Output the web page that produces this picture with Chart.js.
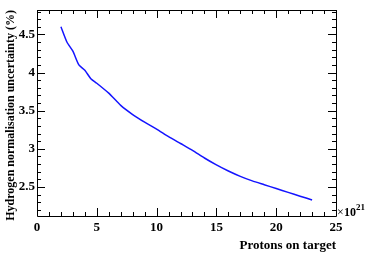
<!DOCTYPE html>
<html>
<head>
<meta charset="utf-8">
<script src="https://cdn.jsdelivr.net/npm/chart.js@4"></script>
<style>
html,body{margin:0;padding:0;background:#fff;}
#wrap{width:374px;height:255px;}
</style>
</head>
<body>
<div id="wrap"><canvas id="c" width="374" height="255"></canvas></div>
<script>
const pot = [2, 2.5, 3, 3.5, 4, 4.5, 5, 6, 7, 8, 9, 10, 11, 12, 13, 14, 15, 16, 17, 18, 19, 20, 21, 22, 23];
const uncertainty = [4.60, 4.40, 4.28, 4.10, 4.03, 3.92, 3.86, 3.73, 3.57, 3.45, 3.35, 3.26, 3.16, 3.07, 2.98, 2.88, 2.79, 2.71, 2.64, 2.58, 2.53, 2.48, 2.43, 2.38, 2.33];
const xTicks = [0, 5, 10, 15, 20, 25];
const yTicks = [2.5, 3, 3.5, 4, 4.5];
const xTitle = "Protons on target";
const yTitle = "Hydrogen normalisation uncertainty (%)";

const FONT = "'Liberation Serif', 'DejaVu Serif', serif";

const framePlugin = {
  id: 'frame',
  afterDraw(chart) {
    const {ctx, chartArea: a, scales: {x, y}} = chart;
    ctx.save();
    ctx.strokeStyle = '#000';
    ctx.lineWidth = 1;
    ctx.beginPath();
    ctx.rect(Math.round(a.left) + 0.5, Math.round(a.top) + 0.5, Math.round(a.right - a.left), Math.round(a.bottom - a.top));
    ctx.stroke();
    ctx.beginPath();
    for (let v = 0; v <= 25.001; v += 1) {
      const px = Math.round(x.getPixelForValue(v)) + 0.5;
      const L = (Math.abs(v % 5) < 1e-6) ? 8 : 4;
      ctx.moveTo(px, a.bottom); ctx.lineTo(px, a.bottom - L);
      ctx.moveTo(px, a.top); ctx.lineTo(px, a.top + L);
    }
    for (let i = 22; i <= 48; i++) {
      const v = i / 10;
      const py = Math.round(y.getPixelForValue(v)) + 0.5;
      const L = (i % 5 === 0) ? 8 : 4;
      ctx.moveTo(a.left, py); ctx.lineTo(a.left + L, py);
      ctx.moveTo(a.right, py); ctx.lineTo(a.right - L, py);
    }
    ctx.stroke();
    ctx.fillStyle = '#000';
    ctx.font = "bold 13px " + FONT;
    ctx.textAlign = 'right';
    ctx.textBaseline = 'middle';
    ctx.fillText(xTitle, a.right, 246);
    ctx.save();
    ctx.font = "bold 12px " + FONT;
    ctx.translate(11, a.top);
    ctx.rotate(-Math.PI / 2);
    ctx.textAlign = 'right';
    ctx.fillText(yTitle, 0, 0);
    ctx.restore();
    ctx.textAlign = 'left';
    ctx.textBaseline = 'alphabetic';
    ctx.font = "12px " + FONT;
    ctx.fillText('\u00d7', a.right + 1, 216);
    ctx.font = "bold 12px " + FONT;
    ctx.fillText('10', a.right + 8, 216);
    ctx.font = "bold 9px " + FONT;
    ctx.fillText('21', a.right + 20, 210);
    ctx.restore();
  }
};

new Chart(document.getElementById('c'), {
  type: 'line',
  data: {
    datasets: [{
      data: pot.map((p, i) => ({x: p, y: uncertainty[i]})),
      borderColor: 'rgb(20,20,255)',
      borderWidth: 1.5,
      pointRadius: 0,
      tension: 0.2,
      fill: false
    }]
  },
  options: {
    responsive: false,
    animation: false,
    devicePixelRatio: 1,
    layout: {padding: {top: 10, right: 38, left: 0, bottom: 0}},
    plugins: {legend: {display: false}, tooltip: {enabled: false}},
    scales: {
      x: {
        type: 'linear', min: 0, max: 25,
        afterBuildTicks: s => { s.ticks = xTicks.map(v => ({value: v})); },
        afterFit: s => { s.height = 39; },
        grid: {display: false, drawTicks: false},
        border: {display: false},
        ticks: {color: '#000', padding: 4, font: {family: FONT, size: 13, weight: 'bold'}, maxRotation: 0}
      },
      y: {
        type: 'linear', min: 2.12, max: 4.82,
        afterBuildTicks: s => { s.ticks = yTicks.map(v => ({value: v})); },
        afterFit: s => { s.width = 37; },
        grid: {display: false, drawTicks: false},
        border: {display: false},
        ticks: {color: '#000', padding: 2, font: {family: FONT, size: 13, weight: 'bold'}, callback: v => String(v)}
      }
    }
  },
  plugins: [framePlugin]
});
</script>
</body>
</html>
